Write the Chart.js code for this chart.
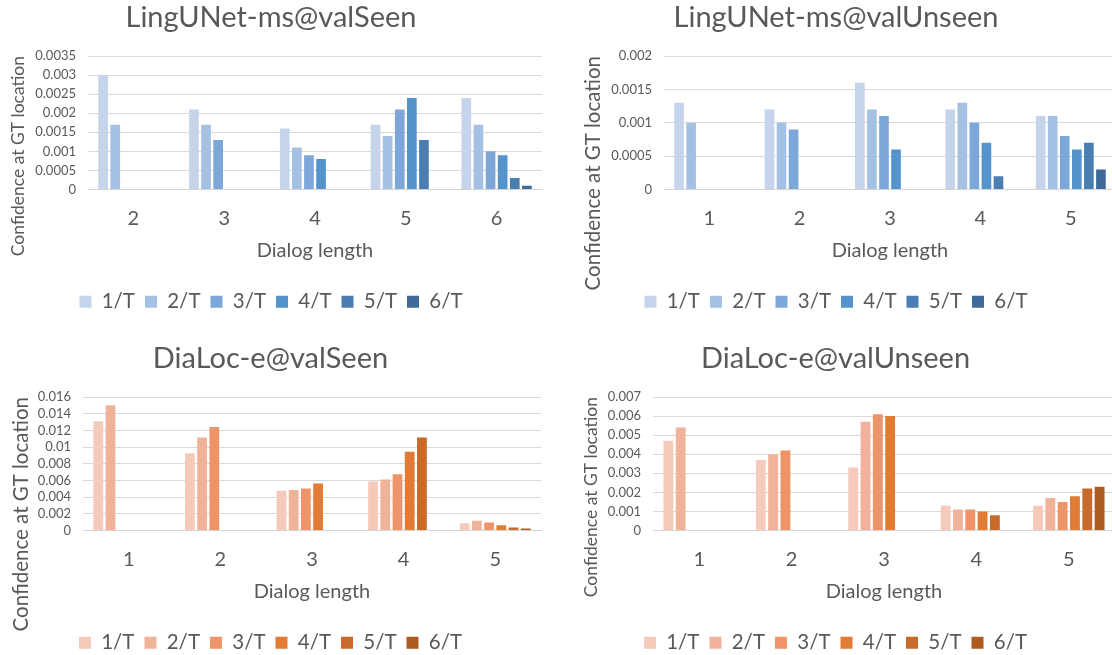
<!DOCTYPE html>
<html>
<head>
<meta charset="utf-8">
<script src="https://cdn.jsdelivr.net/npm/chart.js@4.4.1/dist/chart.umd.min.js"></script>
<style>
html, body { margin: 0; padding: 0; background: #fff; overflow: hidden; }
body { width: 1112px; height: 655px; position: relative; }
.panel { position: absolute; }
</style>
</head>
<body>
<div class="panel" style="left:0;top:0;width:556px;height:328px"><canvas id="lingSeen"></canvas></div>
<div class="panel" style="left:556px;top:0;width:588px;height:328px"><canvas id="lingUnseen"></canvas></div>
<div class="panel" style="left:0;top:328px;width:556px;height:340px"><canvas id="diaSeen"></canvas></div>
<div class="panel" style="left:556px;top:328px;width:588px;height:340px"><canvas id="diaUnseen"></canvas></div>
<script>
const seriesNames = ['1/T', '2/T', '3/T', '4/T', '5/T', '6/T'];

// LingUNet-ms@valSeen, one row per series (1/T .. 6/T)
const lingSeenCats = ['2', '3', '4', '5', '6'];
const lingSeenVals = [
    [0.003, 0.0021, 0.0016, 0.0017, 0.0024],
    [0.0017, 0.0017, 0.0011, 0.0014, 0.0017],
    [null, 0.0013, 0.0009, 0.0021, 0.001],
    [null, null, 0.0008, 0.0024, 0.0009],
    [null, null, null, 0.0013, 0.0003],
    [null, null, null, null, 0.0001]
];

// LingUNet-ms@valUnseen
const lingUnseenCats = ['1', '2', '3', '4', '5'];
const lingUnseenVals = [
    [0.0013, 0.0012, 0.0016, 0.0012, 0.0011],
    [0.001, 0.001, 0.0012, 0.0013, 0.0011],
    [null, 0.0009, 0.0011, 0.001, 0.0008],
    [null, null, 0.0006, 0.0007, 0.0006],
    [null, null, null, 0.0002, 0.0007],
    [null, null, null, null, 0.0003]
];

// DiaLoc-e@valSeen
const diaSeenCats = ['1', '2', '3', '4', '5'];
const diaSeenVals = [
    [0.0131, 0.00925, 0.00476, 0.00587, 0.00088],
    [0.015, 0.01115, 0.00484, 0.0061, 0.00116],
    [null, 0.0124, 0.00504, 0.00675, 0.00096],
    [null, null, 0.00563, 0.00944, 0.00064],
    [null, null, null, 0.01115, 0.00036],
    [null, null, null, null, 0.00024]
];

// DiaLoc-e@valUnseen
const diaUnseenCats = ['1', '2', '3', '4', '5'];
const diaUnseenVals = [
    [0.0047, 0.0037, 0.0033, 0.0013, 0.0013],
    [0.0054, 0.004, 0.0057, 0.0011, 0.0017],
    [null, 0.0042, 0.0061, 0.0011, 0.0015],
    [null, null, 0.006, 0.001, 0.0018],
    [null, null, null, 0.0008, 0.0022],
    [null, null, null, null, 0.0023]
];

const blues = ['#C5D4EB', '#A4C0E3', '#7DA7D9', '#5593CC', '#4A7EB3', '#3E6998'];
const oranges = ['#F5CABB', '#F1B29A', '#EE9468', '#E27B33', '#C86A2A', '#AD5A23'];

const FONT = "Lato, 'Open Sans', sans-serif";
const TEXT = '#595959';

function createBarChart(canvasId, title, cats, vals, colors, yMax, yStep, lay) {
    let ctx = document.getElementById(canvasId).getContext('2d');
    new Chart(ctx, {
        type: 'bar',
        data: {
            labels: cats,
            datasets: vals.map(function(v, i) {
                return {
                    label: seriesNames[i],
                    data: v,
                    backgroundColor: colors[i],
                    categoryPercentage: 0.8,
                    barPercentage: 0.8
                };
            })
        },
        options: {
            responsive: true,
            maintainAspectRatio: false,
            animation: false,
            layout: { padding: { left: 0, right: lay.right, top: 0, bottom: lay.bottom } },
            plugins: {
                title: {
                    display: true,
                    text: title,
                    color: TEXT,
                    font: { family: FONT, size: 29, weight: 'normal' },
                    padding: { top: lay.titleTop, bottom: 20.6 }
                },
                legend: {
                    position: 'bottom',
                    labels: {
                        boxWidth: 12,
                        boxHeight: 12,
                        padding: 10,
                        color: TEXT,
                        font: { family: FONT, size: 20.5 }
                    }
                },
                tooltip: { enabled: false }
            },
            scales: {
                x: {
                    grid: { display: false, drawTicks: false },
                    border: { color: '#D4D4D4' },
                    ticks: { color: TEXT, font: { family: FONT, size: 20 }, padding: 17 },
                    title: {
                        display: true,
                        text: 'Dialog length',
                        color: TEXT,
                        font: { family: FONT, size: 20 },
                        padding: { top: 0, bottom: 19 }
                    },
                    afterFit: function(s) { s.height = 92; }
                },
                y: {
                    min: 0,
                    max: yMax,
                    ticks: {
                        stepSize: yStep,
                        autoSkip: false,
                        color: TEXT,
                        font: { family: FONT, size: 13 },
                        padding: 12,
                        callback: function(v) { return String(+v.toFixed(4)); }
                    },
                    grid: { color: '#D9D9D9', drawTicks: false },
                    border: { display: false },
                    title: {
                        display: true,
                        text: 'Confidence at GT location',
                        align: 'end',
                        color: TEXT,
                        font: { family: FONT, size: lay.ySize },
                        padding: { top: lay.yTitleX, bottom: 0 }
                    },
                    afterFit: function(s) { s.width = lay.yWidth; }
                }
            }
        }
    });
}

document.addEventListener('DOMContentLoaded', function() {
    createBarChart('lingSeen', 'LingUNet-ms@valSeen', lingSeenCats, lingSeenVals, blues, 0.0035, 0.0005,
        { right: 14, bottom: 6, titleTop: 0.6, yWidth: 88, ySize: 17.5, yTitleX: 7.5 });
    createBarChart('lingUnseen', 'LingUNet-ms@valUnseen', lingUnseenCats, lingUnseenVals, blues, 0.002, 0.0005,
        { right: 28, bottom: 6, titleTop: 0.6, yWidth: 108, ySize: 20.5, yTitleX: 25 });
    createBarChart('diaSeen', 'DiaLoc-e@valSeen', diaSeenCats, diaSeenVals, oranges, 0.016, 0.002,
        { right: 15, bottom: 5, titleTop: 13.6, yWidth: 83, ySize: 20.5, yTitleX: 9 });
    createBarChart('diaUnseen', 'DiaLoc-e@valUnseen', diaUnseenCats, diaUnseenVals, oranges, 0.007, 0.001,
        { right: 29, bottom: 5, titleTop: 13.6, yWidth: 97, ySize: 17.5, yTitleX: 25 });
});
</script>
</body>
</html>
